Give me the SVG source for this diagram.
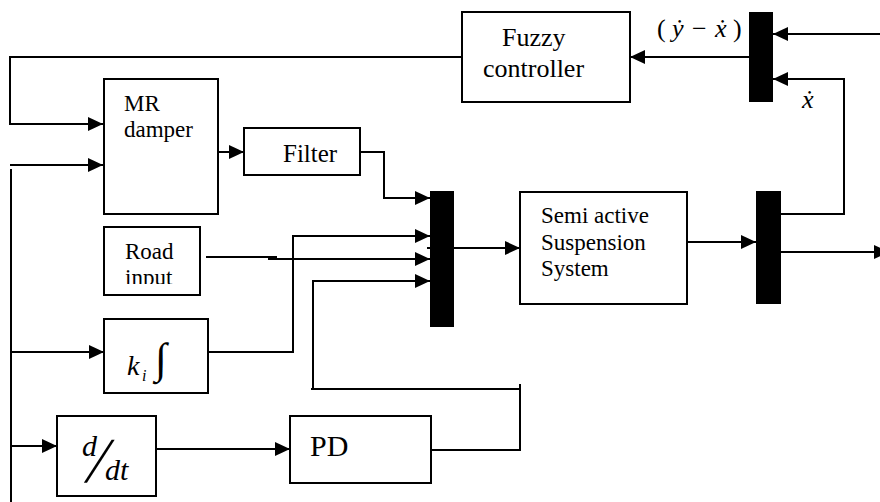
<svg xmlns="http://www.w3.org/2000/svg" width="880" height="502" viewBox="0 0 880 502">
<style>
.box{fill:#fff;stroke:#000;stroke-width:2}
.mux{fill:#000;stroke:none}
.w{fill:none;stroke:#000;stroke-width:2}
text{font-family:'Liberation Serif', serif;fill:#000}
.s23{font-size:23px}
.s25{font-size:25px}
.s26{font-size:26px}
.s28{font-size:28px}
.s30{font-size:30px}
.s16{font-size:16px}
.s43{font-size:43px}
.s64{font-size:64px}
.i{font-style:italic}
</style>
<defs>
<marker id="ah" markerUnits="userSpaceOnUse" markerWidth="15" markerHeight="14" refX="15" refY="7" orient="auto">
<path d="M0,0 L15,7 L0,14 z" fill="#000"/>
</marker>
<clipPath id="roadclip"><rect x="104" y="227" width="96" height="57"/></clipPath>
</defs>
<rect width="880" height="502" fill="#fff"/>

<g id="connectors">
<path class="w" d="M462,57 H10 V124 H103" marker-end="url(#ah)"/>
<path class="w" d="M10,165 H103" marker-end="url(#ah)"/>
<path class="w" d="M11,169 V502"/>
<path class="w" d="M11,352 H104" marker-end="url(#ah)"/>
<path class="w" d="M11,446 H57" marker-end="url(#ah)"/>
<path class="w" d="M219,152 H244" marker-end="url(#ah)"/>
<path class="w" d="M360,152 H384 V198 H430" marker-end="url(#ah)"/>
<path class="w" d="M206,257 H277"/>
<path class="w" d="M268,259 H430" marker-end="url(#ah)"/>
<path class="w" d="M208,352 H293 V236 H430" marker-end="url(#ah)"/>
<path class="w" d="M152,449 H290" marker-end="url(#ah)"/>
<path class="w" d="M424,450 H520 V384"/>
<path class="w" d="M311,389 H520"/>
<path class="w" d="M313,389 V281 H430" marker-end="url(#ah)"/>
<path class="w" d="M427,248 H520" marker-end="url(#ah)"/>
<path class="w" d="M684,242 H756" marker-end="url(#ah)"/>
<path class="w" d="M781,252 H889" marker-end="url(#ah)"/>
<path class="w" d="M781,214 H844 V79 H773" marker-end="url(#ah)"/>
<path class="w" d="M880,34 H773" marker-end="url(#ah)"/>
<path class="w" d="M749,57 H630" marker-end="url(#ah)"/>
</g>

<g id="fuzzy">
<rect class="box" x="462" y="12" width="168" height="90"/>
<text class="s26" x="502" y="46">Fuzzy</text>
<text class="s26" x="483" y="77">controller</text>
</g>

<g id="mux2"><rect class="mux" x="749" y="12" width="24" height="90"/></g>

<g id="label-diff">
<text class="s26" y="37"><tspan x="657">(</tspan><tspan x="672" class="i">ẏ</tspan><tspan x="692">−</tspan><tspan x="715" class="i">ẋ</tspan><tspan x="733">)</tspan></text>
</g>
<g id="label-xdot"><text class="s26 i" x="802" y="108">ẋ</text></g>

<g id="mr-damper">
<rect class="box" x="104" y="79" width="114" height="135"/>
<text class="s23" x="124" y="111">MR</text>
<text class="s23" x="124" y="137">damper</text>
</g>

<g id="filter">
<rect class="box" x="244" y="128" width="116" height="47"/>
<text class="s25" x="283" y="162">Filter</text>
</g>

<g id="road-input">
<rect class="box" x="104" y="227" width="96" height="68"/>
<text class="s23" x="125" y="259">Road</text>
<text class="s23" x="125" y="285" clip-path="url(#roadclip)">input</text>
</g>

<g id="ki">
<rect class="box" x="104" y="319" width="104" height="74"/>
<text class="s28 i" x="127" y="375">k</text>
<text class="s16 i" x="142" y="381">i</text>
<text class="s43" x="155" y="373">∫</text>
</g>

<g id="ddt">
<rect class="box" x="57" y="416" width="99" height="80"/>
<text class="s30 i" x="82" y="456">d</text>
<text class="s64" transform="translate(84,482) skewX(-17)">/</text>
<text class="s30 i" x="105" y="480">dt</text>
</g>

<g id="pd">
<rect class="box" x="290" y="416" width="141" height="67"/>
<text class="s30" x="310" y="456">PD</text>
</g>

<g id="mux1"><rect class="mux" x="430" y="191" width="24" height="136"/></g>

<g id="sas">
<rect class="box" x="520" y="192" width="167" height="112"/>
<text class="s23" x="541" y="223">Semi active</text>
<text class="s23" x="541" y="250">Suspension</text>
<text class="s23" x="541" y="276">System</text>
</g>

<g id="mux3"><rect class="mux" x="756" y="191" width="25" height="113"/></g>
</svg>
